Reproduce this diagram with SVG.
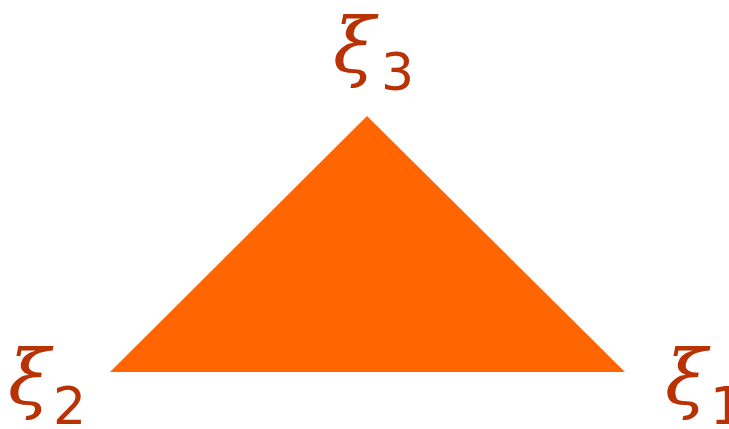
<svg xmlns="http://www.w3.org/2000/svg" width="729" height="429" viewBox="0 0 729 429">
<style>
.lbl{fill:#B83204}
.xi{font-family:"DejaVu Serif","Liberation Serif",serif;font-style:italic;font-size:77px}
.sub{font-family:"DejaVu Sans","Liberation Sans",sans-serif;font-size:52px}
</style>
<g id="triangle"><polygon points="367,116 110,372 625,372" fill="#FF6600"/></g>
<g id="label3" class="lbl"><text class="xi" x="333" y="72">ξ</text><text class="sub" x="381" y="90">3</text></g>
<g id="label2" class="lbl"><text class="xi" x="8" y="404">ξ</text><text class="sub" x="53" y="424">2</text></g>
<g id="label1" class="lbl"><text class="xi" x="665" y="404">ξ</text><text class="sub" x="710" y="424">1</text></g>
</svg>
